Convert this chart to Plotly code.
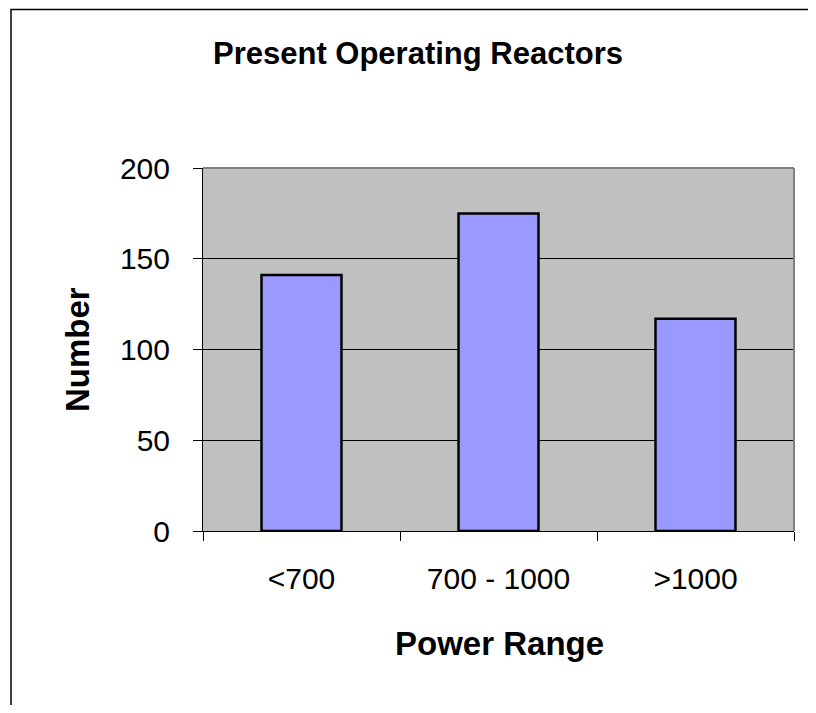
import plotly.graph_objects as go

categories = ["<700", "700 - 1000", ">1000"]
values = [141, 175, 117]
y_ticks = [0, 50, 100, 150, 200]

# page offset from default body margin
OFF = 8
W, H = 800, 697
# plot-area edges in page pixels
L, R, T, B = 203, 794, 168, 531
pw, ph = R - L, B - T

def px_x(x):
    return (x - L) / pw

def px_y(y):
    return (B - y) / ph

fig = go.Figure(go.Bar(
    x=categories, y=values, width=0.406,
    marker=dict(color="#9999FF", line=dict(color="black", width=2.5)),
))

font = "Liberation Sans, Arial, sans-serif"

# outer chart border: only its left and top edges fall inside the picture
bx0, by0, bx1, by1 = px_x(11), px_y(9.5), px_x(830), px_y(730)
border_path = f"M {bx0},{by1} L {bx0},{by0} L {bx1},{by0}"

fig.update_layout(
    width=W, height=H,
    margin=dict(l=L - OFF, r=W - (R - OFF), t=T - OFF, b=H - (B - OFF), autoexpand=False),
    paper_bgcolor="white", plot_bgcolor="#C0C0C0",
    showlegend=False,
    font=dict(family=font, size=30, color="black"),
    title=dict(text="<b>Present Operating Reactors</b>", x=(418 - OFF) / W, xanchor="center",
               y=1 - (53 - OFF) / H, yanchor="middle", font=dict(size=31, family=font)),
    xaxis=dict(
        type="category", tickson="boundaries", ticks="outside", ticklen=9,
        tickcolor="black", tickwidth=1, showline=True, linecolor="black", linewidth=1,
        showgrid=False, ticklabelstandoff=21, tickfont=dict(size=30),
        range=[-0.5, 2.5],
    ),
    yaxis=dict(
        range=[0, 200], tickvals=y_ticks, ticks="outside", ticklen=9,
        tickcolor="black", showline=True, linecolor="black", linewidth=1,
        showgrid=True, gridcolor="black", gridwidth=1, zeroline=False,
        ticklabelstandoff=17, tickfont=dict(size=30),
    ),
    annotations=[
        dict(text="<b>Number</b>", x=px_x(77), y=px_y(350), xref="paper", yref="paper",
             textangle=-90, showarrow=False, font=dict(size=33, family=font),
             xanchor="center", yanchor="middle"),
        dict(text="<b>Power Range</b>", x=px_x(499), y=px_y(643), xref="paper", yref="paper",
             showarrow=False, font=dict(size=33, family=font),
             xanchor="center", yanchor="middle"),
    ],
    shapes=[
        dict(type="line", xref="paper", yref="paper", x0=0, x1=1, y0=1, y1=1,
             line=dict(color="#808080", width=2)),
        dict(type="line", xref="paper", yref="paper", x0=1, x1=1, y0=0, y1=1,
             line=dict(color="#808080", width=2)),
        dict(type="path", xref="paper", yref="paper", path=border_path,
             fillcolor="rgba(0,0,0,0)", line=dict(color="black", width=1.5)),
    ],
)

fig.write_html("out.html")
